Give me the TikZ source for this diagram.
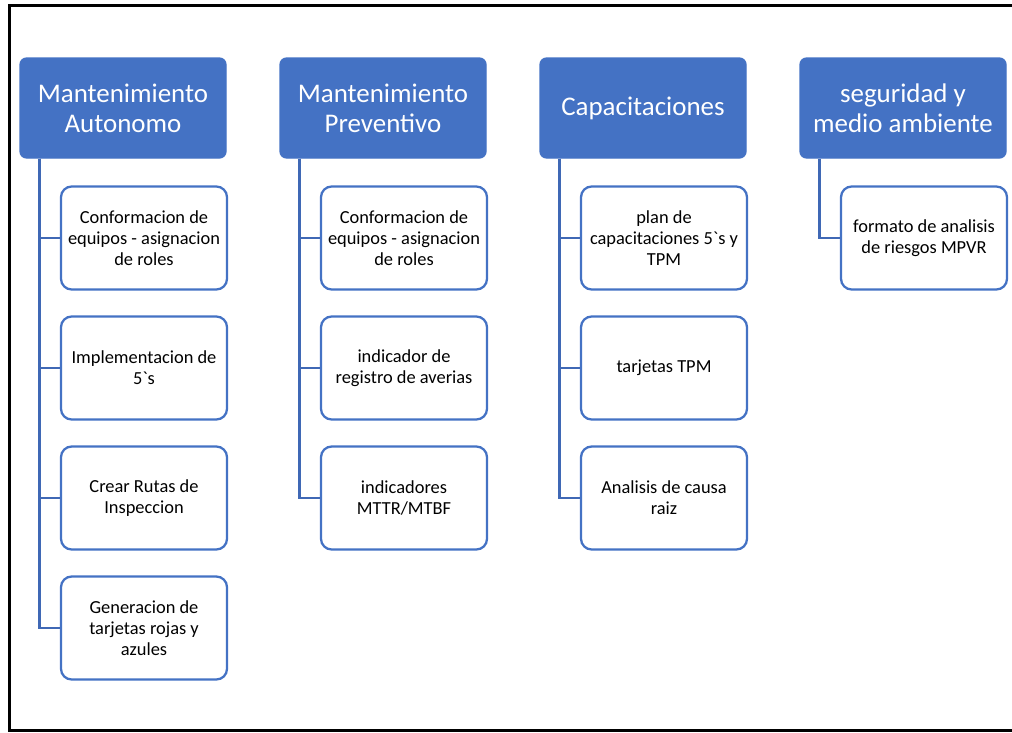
\documentclass[tikz,border=0pt]{standalone}
\usepackage{fontspec}
\newfontfamily\carl{Carlito}
\definecolor{hblue}{HTML}{4472C4}
\definecolor{lblue}{HTML}{3F68B5}
\begin{document}
\begin{tikzpicture}[x=0.75pt,y=-0.75pt,
  head/.style={draw=hblue,fill=hblue,rounded corners=5pt,line width=1pt,
    minimum width=206*0.75pt,minimum height=100*0.75pt,inner sep=0pt,
    text=white,align=center,font=\carl\fontsize{20.2pt}{22.5pt}\selectfont},
  item/.style={draw=hblue,fill=white,rounded corners=8pt,line width=1.7pt,
    minimum width=166*0.75pt,minimum height=103*0.75pt,inner sep=0pt,
    text=black,align=center,font=\carl\fontsize{13.8pt}{15.75pt}\selectfont},
  link/.style={draw=lblue,line width=2pt}]
\useasboundingbox (0,0) rectangle (1012,732);
\draw[line width=2.3pt] (1013,5.5) -- (9.5,5.5) -- (9.5,730.5) -- (1013,730.5);
% headers
\node[head] (h1) at (123,108) {Mantenimiento\\Autonomo};
\node[head] (h2) at (383,108) {Mantenimiento\\Preventivo};
\node[head] (h3) at (643,108) {Capacitaciones};
\node[head] (h4) at (903,108) {seguridad y\\medio ambiente};
% column 1
\node[item] (a1) at (144,238) {Conformacion de\\equipos - asignacion\\de roles};
\node[item] (a2) at (144,368) {Implementacion de\\5`s};
\node[item] (a3) at (144,498) {Crear Rutas de\\Inspeccion};
\node[item] (a4) at (144,628) {Generacion de\\tarjetas rojas y\\azules};
% column 2
\node[item] (b1) at (404,238) {Conformacion de\\equipos - asignacion\\de roles};
\node[item] (b2) at (404,368) {indicador de\\registro de averias};
\node[item] (b3) at (404,498) {indicadores\\MTTR/MTBF};
% column 3
\node[item] (c1) at (664,238) {plan de\\capacitaciones 5`s y\\TPM};
\node[item] (c2) at (664,368) {tarjetas TPM};
\node[item] (c3) at (664,498) {Analisis de causa\\raiz};
% column 4
\node[item] (d1) at (924,238) {formato de analisis\\de riesgos MPVR};
% connectors
\foreach \h/\c in {h1/a1,h1/a2,h1/a3,h1/a4,h2/b1,h2/b2,h2/b3,h3/c1,h3/c2,h3/c3,h4/d1}{
  \draw[link] ([xshift=20*0.75pt]\h.south west) |- (\c.west);
}
\end{tikzpicture}
\end{document}
